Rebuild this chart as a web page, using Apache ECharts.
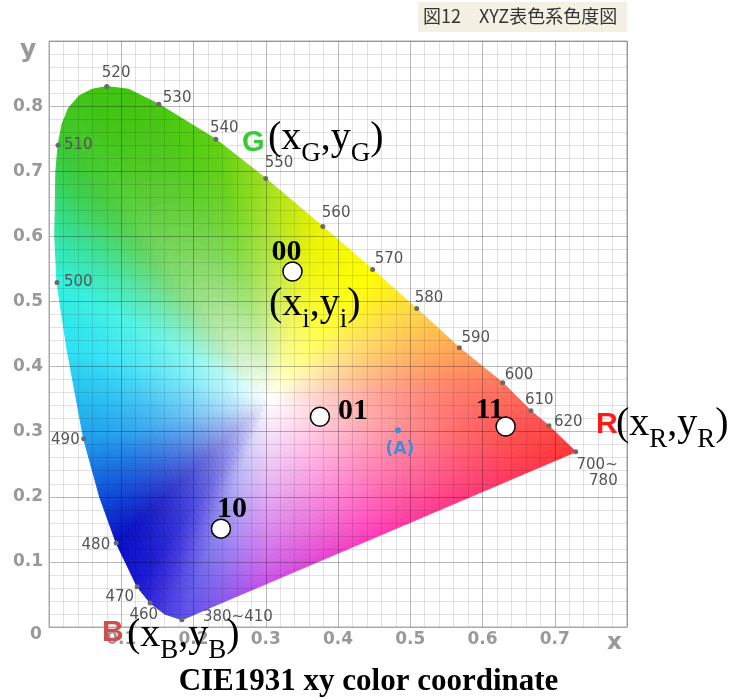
<!DOCTYPE html>
<html><head><meta charset="utf-8">
<script src="https://cdn.jsdelivr.net/npm/echarts@6/dist/echarts.min.js"></script>
<style>html,body{margin:0;padding:0;background:#fff}#c{width:737px;height:700px}</style>
</head><body><div id="c"></div>
<script>
// ---- spectral locus boundary, in drawing order ----
const locusX = [0.184,0.160,0.140,0.122,0.093,0.070,0.048,0.025,0.011,0.008,0.0095,0.0125,0.018,0.027,0.042,0.060,0.080,0.110,0.152,0.231,0.300,0.379,0.448,0.509,0.568,0.628,0.667,0.692,0.729,0.600,0.450,0.300,0.230];
const locusY = [0.011,0.020,0.037,0.062,0.129,0.200,0.289,0.426,0.529,0.600,0.700,0.740,0.772,0.797,0.816,0.826,0.830,0.826,0.803,0.749,0.689,0.615,0.549,0.489,0.429,0.375,0.332,0.309,0.269,0.208,0.137,0.066,0.033];
// ---- wavelength markers ----
const wlLabels = ['380~410','460','470','480','490','500','510','520','530','540','550','560','570','580','590','600','610','620','700~\n780'];
const wlX = [0.184,0.140,0.122,0.093,0.048,0.011,0.0125,0.080,0.152,0.231,0.300,0.379,0.448,0.509,0.568,0.628,0.667,0.692,0.729];
const wlY = [0.011,0.037,0.062,0.129,0.289,0.529,0.740,0.830,0.803,0.749,0.689,0.615,0.549,0.489,0.429,0.375,0.332,0.309,0.269];
// ---- labelled chromaticity points ----
const ptNames = ['00','01','10','11'];
const ptX = [0.337,0.375,0.238,0.632];
const ptY = [0.546,0.323,0.151,0.308];
const illumNames = ['(A)'];
const illumX = [0.483];
const illumY = [0.302];
// ---- tick labels ----
const xTickLabels = ['', '0.1','0.2','0.3','0.4','0.5','0.6','0.7',''];
const yTickLabels = ['', '0.1','0.2','0.3','0.4','0.5','0.6','0.7','0.8',''];

// ---- styles (kept apart from data) ----
const locusColors = ['#5c50e8','#4a3ee2','#3428dc','#1a18d2','#0a10c4','#1050d8','#20a0ee','#30e0f4','#34f0e0','#34e4a8','#38d050','#3cc838','#40c828','#40c820','#40c418','#40c410','#40c410','#44c410','#48c810','#60d010','#a0e020','#eef400','#ffff00','#ffd848','#ffa858','#ff7860','#ff6058','#ff5050','#ff3838','#ff3870','#ff38b8','#c850e8','#8058ee'];
const locusGamma = [1.3,1.5,1.7,1.8,1.8,1.8,1.8,1.8,1.8,1.8,1.8,1.8,1.8,1.8,1.8,1.8,1.8,1.8,1.8,1.8,1.8,1.8,1.8,1.8,1.8,1.7,1.6,1.5,1.4,1.1,0.9,0.9,1.1];
const whitePt = [0.305, 0.35];
const RINGS = 40;
const wlLabelStyle = [
  {dx:21,dy:-3,align:'left'},{dx:8,dy:12,align:'right'},{dx:-3,dy:10,align:'right'},{dx:-6,dy:2,align:'right'},
  {dx:-4,dy:1,align:'right'},{dx:7,dy:0,align:'left'},{dx:6,dy:0,align:'left'},{dx:-5,dy:-13,align:'left'},
  {dx:4,dy:-6,align:'left'},{dx:-6,dy:-11,align:'left'},{dx:-1,dy:-15,align:'left'},{dx:-1,dy:-13,align:'left'},
  {dx:2,dy:-10,align:'left'},{dx:-2,dy:-10,align:'left'},{dx:2,dy:-10,align:'left'},{dx:2,dy:-8,align:'left'},
  {dx:-6,dy:-11,align:'left'},{dx:5,dy:-4,align:'left'},{dx:42,dy:21,align:'right'}
];
const ptLabelOffset = [[-6,-19],[33,-5],[11,-19],[-16,-16]];

function hex2rgb(h){h=h.replace('#','');return [parseInt(h.slice(0,2),16),parseInt(h.slice(2,4),16),parseInt(h.slice(4,6),16)];}
function whiten(h,g){const c=hex2rgb(h);return 'rgb('+c.map(v=>Math.round(v+(255-v)*g)).join(',')+')';}
function lerp(p,q,t){return [p[0]+(q[0]-p[0])*t,p[1]+(q[1]-p[1])*t];}

const chart = echarts.init(document.getElementById('c'), null, {renderer:'canvas'});
const n = locusX.length;

const rich = {
  m:{fontFamily:'Liberation Serif',fontSize:40,lineHeight:58,color:'#000'},
  s:{fontFamily:'Liberation Serif',fontSize:27,lineHeight:27,verticalAlign:'bottom',color:'#000'}
};
function coordText(left, cy, sub){
  return {type:'text',left:left,top:cy-29,z:100,style:{text:'{m|(x}{s|'+sub+'}{m|,y}{s|'+sub+'}{m|)}',rich:rich}};
}

chart.setOption({
  animation:false,
  grid:{left:49,top:41,width:578,height:586,show:true,borderColor:'#aaa',borderWidth:1,backgroundColor:'transparent'},
  xAxis:{type:'value',min:0,max:0.8,interval:0.1,z:3,
    axisLine:{show:true,lineStyle:{color:'#aaa'}},axisTick:{show:false},
    axisLabel:{margin:4,color:'#999',fontWeight:'bold',fontSize:17,fontFamily:'DejaVu Sans',
      formatter:v=>xTickLabels[Math.round(v*10)]||''},
    splitLine:{show:true,lineStyle:{color:'rgba(0,0,0,0.28)',width:1}},
    minorTick:{show:false,splitNumber:5},
    minorSplitLine:{show:true,lineStyle:{color:'rgba(0,0,0,0.11)',width:1}}},
  yAxis:{type:'value',min:0,max:0.9,interval:0.1,z:3,
    axisLine:{show:true,lineStyle:{color:'#aaa'}},axisTick:{show:false},
    axisLabel:{margin:6,color:'#999',fontWeight:'bold',fontSize:17,fontFamily:'DejaVu Sans',
      formatter:v=>yTickLabels[Math.round(v*10)]||''},
    splitLine:{show:true,lineStyle:{color:'rgba(0,0,0,0.28)',width:1}},
    minorTick:{show:false,splitNumber:5},
    minorSplitLine:{show:true,lineStyle:{color:'rgba(0,0,0,0.11)',width:1}}},
  series:[
    {type:'custom',z:1,silent:true,
      data:locusX.map((x,i)=>[x,locusY[i],i]),
      encode:{x:0,y:1},
      renderItem:function(params,api){
        const i=api.value(2), j=(i+1)%n;
        const P=[locusX[i],locusY[i]], Q=[locusX[j],locusY[j]];
        const children=[];
        for(let k=0;k<RINGS;k++){
          const t0=k/RINGS,t1=(k+1)/RINGS,tm=(t0+t1)/2;
          const a0=api.coord(lerp(P,whitePt,t0)),b0=api.coord(lerp(Q,whitePt,t0));
          const b1=api.coord(lerp(Q,whitePt,t1)),a1=api.coord(lerp(P,whitePt,t1));
          const gi=Math.pow(tm,locusGamma[i]), gj=Math.pow(tm,locusGamma[j]);
          const ga=[(a0[0]+a1[0])/2,(a0[1]+a1[1])/2], gb=[(b0[0]+b1[0])/2,(b0[1]+b1[1])/2];
          const grad={type:'linear',x:ga[0],y:ga[1],x2:gb[0],y2:gb[1],global:true,
            colorStops:[{offset:0,color:whiten(locusColors[i],gi)},{offset:1,color:whiten(locusColors[j],gj)}]};
          children.push({type:'polygon',shape:{points:[a0,b0,b1,a1]},style:{fill:grad,stroke:grad,lineWidth:1}});
        }
        return {type:'group',children:children};
      }},
    {type:'scatter',z:10,symbol:'circle',symbolSize:5,itemStyle:{color:'#6a6a6a',opacity:1},
      data:wlX.map((x,i)=>({value:[x,wlY[i]],name:wlLabels[i],
        label:{show:true,position:'inside',align:wlLabelStyle[i].align,verticalAlign:'middle',
          offset:[wlLabelStyle[i].dx,wlLabelStyle[i].dy],formatter:'{b}',color:'#555',
          fontFamily:'DejaVu Sans',fontSize:15,lineHeight:16}}))},
    {type:'scatter',z:11,symbol:'circle',symbolSize:6,itemStyle:{color:'#3a90d0',opacity:1},
      data:illumX.map((x,i)=>({value:[x,illumY[i]],name:illumNames[i]})),
      label:{show:true,position:'inside',offset:[2,19],formatter:'{b}',color:'#3a90d0',
        fontFamily:'DejaVu Sans',fontWeight:'bold',fontSize:17}},
    {type:'scatter',z:12,symbol:'circle',symbolSize:19,
      itemStyle:{color:'#fff',borderColor:'#000',borderWidth:1.5,opacity:1},
      data:ptX.map((x,i)=>({value:[x,ptY[i]],name:ptNames[i],
        label:{show:true,position:'inside',offset:ptLabelOffset[i],formatter:'{b}',color:'#000',
          fontFamily:'Liberation Serif',fontWeight:'bold',fontSize:30}}))}
  ],
  graphic:[
    {type:'rect',left:418,top:2,z:100,shape:{width:209,height:30},style:{fill:'#f4f0e4'}},
    {type:'text',left:423,top:7,z:101,style:{text:'図12\u3000XYZ表色系色度図',fontFamily:'Noto Sans CJK JP',fontSize:18,fill:'#333'}},
    {type:'text',left:20,top:38,z:100,style:{text:'y',fontFamily:'DejaVu Sans',fontWeight:'bold',fontSize:25,fill:'#999'}},
    {type:'text',left:607,top:632,z:100,style:{text:'x',fontFamily:'DejaVu Sans',fontWeight:'bold',fontSize:23,fill:'#999'}},
    {type:'text',left:30,top:626,z:100,style:{text:'0',fontFamily:'DejaVu Sans',fontWeight:'bold',fontSize:17,fill:'#999'}},
    {type:'text',left:242,top:128,z:100,style:{text:'G',fontFamily:'Liberation Sans',fontWeight:'bold',fontSize:29,fill:'#33cc33'}},
    coordText(268,147,'G'),
    {type:'text',left:596,top:410,z:100,style:{text:'R',fontFamily:'Liberation Sans',fontWeight:'bold',fontSize:30,fill:'#ff1a1a'}},
    coordText(616,433,'R'),
    {type:'text',left:102,top:618,z:100,style:{text:'B',fontFamily:'Liberation Sans',fontWeight:'bold',fontSize:30,fill:'#cd5050'}},
    coordText(127,644,'B'),
    coordText(269,313,'i'),
    {type:'text',left:'center',top:666,z:100,style:{text:'CIE1931 xy color coordinate',fontFamily:'Liberation Serif',fontWeight:'bold',fontSize:31,fill:'#000'}}
  ]
});
</script></body></html>
